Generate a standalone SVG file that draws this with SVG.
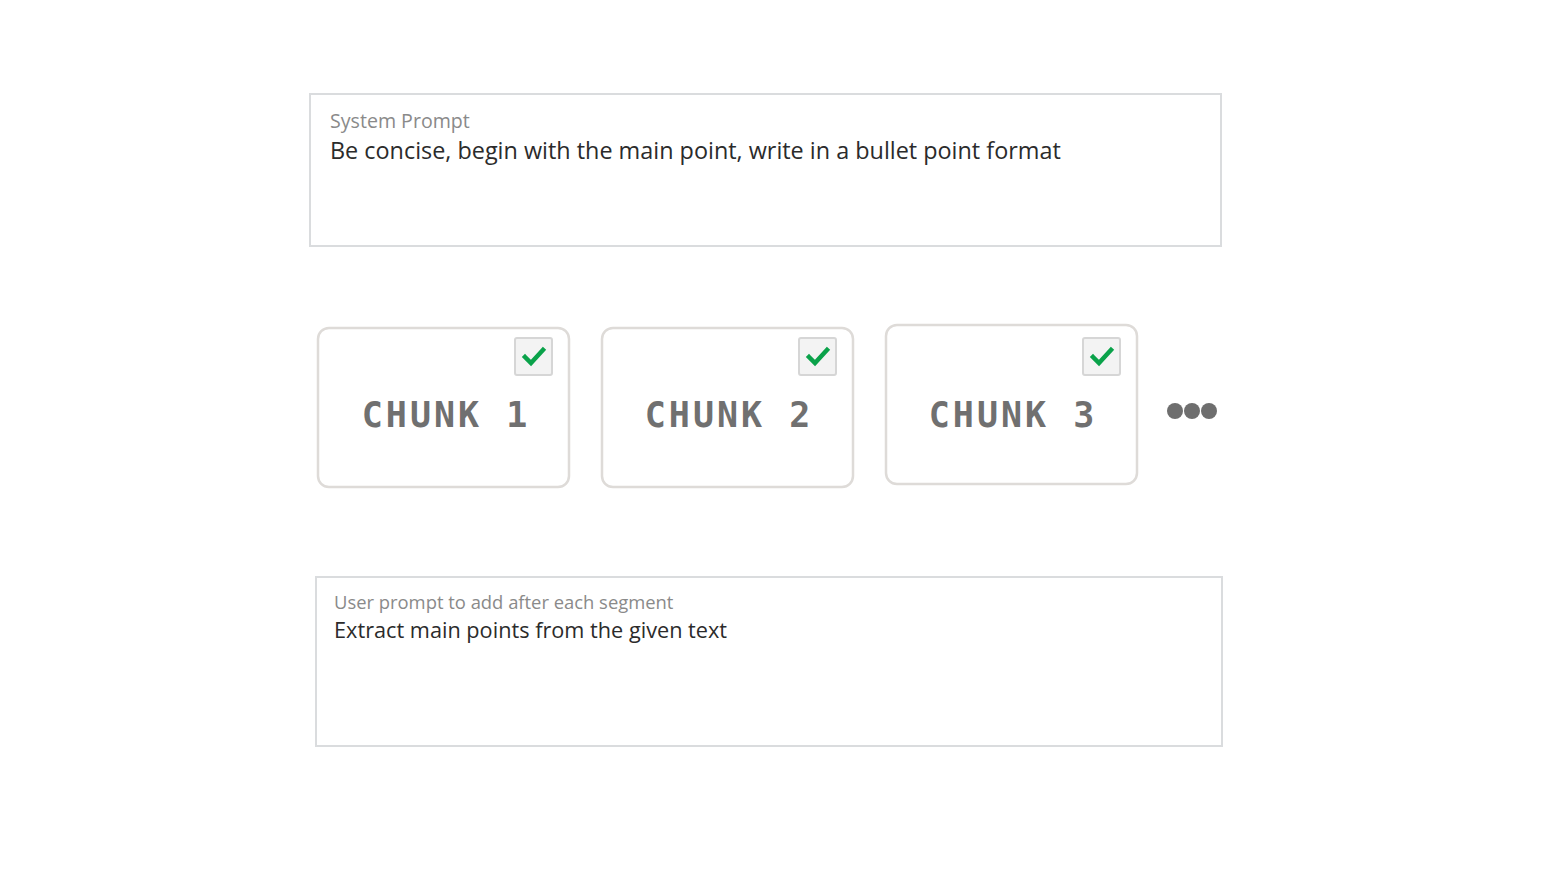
<svg xmlns="http://www.w3.org/2000/svg" width="1549" height="876" viewBox="0 0 1549 876">
<style>
.box{fill:#fff;stroke:#dadcde;stroke-width:2}
.lbl{font-family:"Open Sans","Noto Sans",sans-serif;fill:#8a8a8a}
.txt{font-family:"Open Sans","Noto Sans",sans-serif;fill:#2b2b2b}
.chunk{fill:#fff;stroke:#dedbd8;stroke-width:2.5}
.cb{fill:#f3f3f3;stroke:#d6d6d6;stroke-width:2}
.chk{fill:none;stroke:#0aa24a;stroke-width:4.5;stroke-linecap:square}
.ct{font-family:"DejaVu Sans Mono","Liberation Mono",monospace;font-weight:bold;font-size:35px;fill:#707070;letter-spacing:3px}
</style>
<rect width="1549" height="876" fill="#fff"/>
<g id="system-prompt">
<rect class="box" x="310" y="94" width="911" height="152"/>
<text class="lbl" x="330" y="128" font-size="19.6">System Prompt</text>
<text class="txt" x="330" y="159" font-size="23.4">Be concise, begin with the main point, write in a bullet point format</text>
</g>
<g id="chunk1">
<rect class="chunk" x="318" y="328" width="251" height="159" rx="11"/>
<rect class="cb" x="515" y="338" width="37" height="37" rx="2"/>
<path class="chk" d="M525 357 L531 363 L543 350"/>
<text class="ct" x="446" y="427" text-anchor="middle">CHUNK 1</text>
</g>
<g id="chunk2">
<rect class="chunk" x="602" y="328" width="251" height="159" rx="11"/>
<rect class="cb" x="799" y="338" width="37" height="37" rx="2"/>
<path class="chk" d="M809 357 L815 363 L827 350"/>
<text class="ct" x="729" y="427" text-anchor="middle">CHUNK 2</text>
</g>
<g id="chunk3">
<rect class="chunk" x="886" y="325" width="251" height="159" rx="11"/>
<rect class="cb" x="1083" y="338" width="37" height="37" rx="2"/>
<path class="chk" d="M1093 357 L1099 363 L1111 350"/>
<text class="ct" x="1013" y="427" text-anchor="middle">CHUNK 3</text>
</g>
<g id="more" fill="#6e6e6e">
<circle cx="1175" cy="411" r="8"/>
<circle cx="1192" cy="411" r="8"/>
<circle cx="1209" cy="411" r="8"/>
</g>
<g id="user-prompt">
<rect class="box" x="316" y="577" width="906" height="169"/>
<text class="lbl" x="334" y="609" font-size="18.4">User prompt to add after each segment</text>
<text class="txt" x="334" y="638" font-size="21.7">Extract main points from the given text</text>
</g>
<g id="connectors"></g>
</svg>
